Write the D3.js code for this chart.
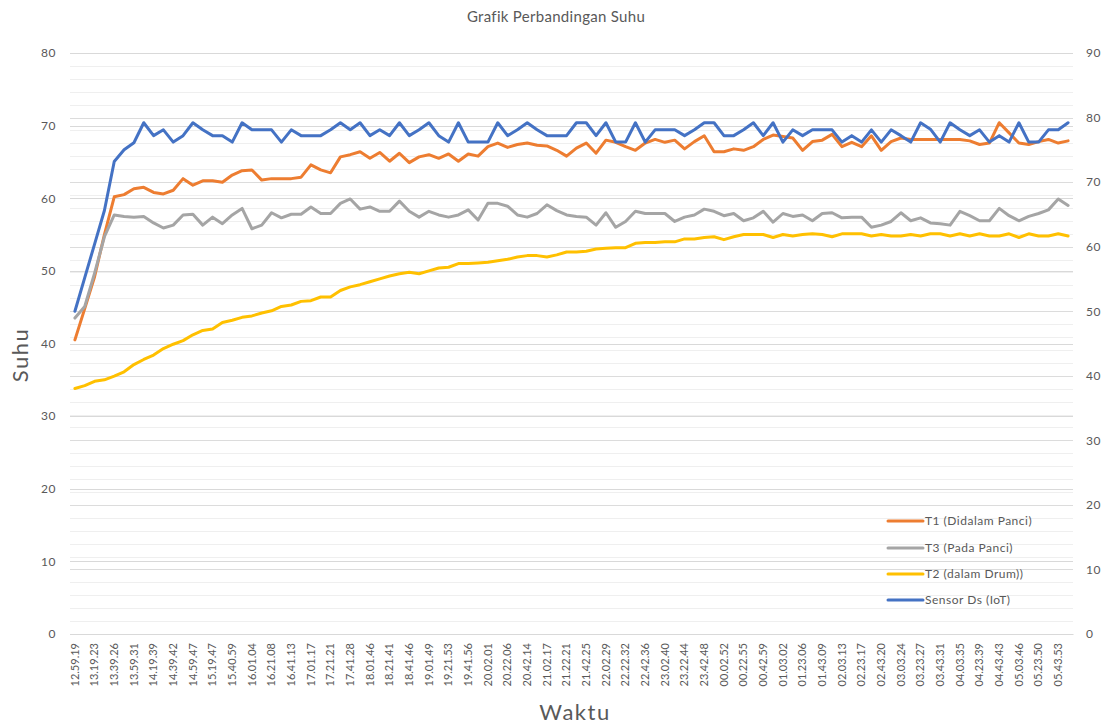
<!DOCTYPE html>
<html>
<head>
<meta charset="utf-8">
<script src="https://cdn.jsdelivr.net/npm/d3@7"></script>
<style>
  html, body { margin: 0; padding: 0; background: #fff; }
  svg { display: block; font-family: Lato, "Open Sans", "Noto Sans", sans-serif; }
</style>
</head>
<body>
<svg id="chart" width="1109" height="726"></svg>
<script>
// ---- Data ----
const tickLabels = ["12.59.19","13.19.23","13.39.26","13.59.31","14.19.39","14.39.42","14.59.47","15.19.47","15.40.59","16.01.04","16.21.08","16.41.13","17.01.17","17.21.21","17.41.28","18.01.46","18.21.41","18.41.46","19.01.49","19.21.53","19.41.56","20.02.01","20.22.06","20.42.14","21.02.17","21.22.21","21.42.25","22.02.29","22.22.32","22.42.36","23.02.40","23.22.44","23.42.48","00.02.52","00.22.55","00.42.59","01.03.02","01.23.06","01.43.09","02.03.13","02.23.17","02.43.20","03.03.24","03.23.27","03.43.31","04.03.35","04.23.39","04.43.43","05.03.46","05.23.50","05.43.53"];

// T1 (Didalam Panci) - left axis
const t1 = [40.5,44.8,49.2,55.0,60.2,60.5,61.3,61.5,60.8,60.6,61.1,62.7,61.8,62.4,62.4,62.2,63.2,63.8,63.9,62.5,62.7,62.7,62.7,62.9,64.6,63.9,63.5,65.7,66.0,66.4,65.5,66.3,65.1,66.2,64.9,65.7,66.0,65.5,66.1,65.1,66.1,65.8,67.1,67.6,67.0,67.4,67.6,67.3,67.2,66.6,65.8,66.9,67.6,66.2,68.0,67.7,67.1,66.6,67.6,68.1,67.7,68.0,66.8,67.8,68.6,66.4,66.4,66.8,66.6,67.1,68.1,68.7,68.5,68.3,66.6,67.8,68.0,68.8,67.1,67.7,67.1,68.6,66.6,67.8,68.3,68.1,68.1,68.1,68.1,68.1,68.1,67.9,67.4,67.6,70.4,69.0,67.6,67.4,67.8,68.1,67.6,67.9];

// T3 (Pada Panci) - left axis
const t3 = [43.5,45.1,49.7,54.7,57.7,57.5,57.4,57.5,56.6,55.9,56.3,57.7,57.8,56.3,57.4,56.5,57.7,58.6,55.8,56.3,58.0,57.3,57.8,57.8,58.8,57.9,57.9,59.3,59.9,58.5,58.8,58.2,58.2,59.6,58.2,57.4,58.2,57.7,57.4,57.7,58.4,57.0,59.3,59.3,58.9,57.7,57.4,57.9,59.1,58.3,57.7,57.5,57.4,56.3,58.0,56.0,56.8,58.2,57.9,57.9,57.9,56.8,57.4,57.7,58.5,58.2,57.6,57.9,56.9,57.3,58.2,56.7,57.9,57.5,57.7,56.9,57.9,58.0,57.3,57.4,57.4,56.0,56.3,56.8,58.0,56.9,57.3,56.6,56.5,56.3,58.2,57.6,56.9,56.9,58.6,57.6,56.9,57.5,57.9,58.4,59.9,59.0];

// T2 (dalam Drum)) - left axis
const t2 = [33.8,34.2,34.8,35.0,35.5,36.1,37.1,37.8,38.4,39.3,39.9,40.4,41.2,41.8,42.0,42.9,43.2,43.6,43.8,44.2,44.5,45.1,45.3,45.8,45.9,46.4,46.4,47.3,47.8,48.1,48.5,48.9,49.3,49.6,49.8,49.6,50.0,50.4,50.5,51.0,51.0,51.1,51.2,51.4,51.6,51.9,52.1,52.1,51.9,52.2,52.6,52.6,52.7,53.0,53.1,53.2,53.2,53.8,53.9,53.9,54.0,54.0,54.4,54.4,54.6,54.7,54.3,54.7,55.0,55.0,55.0,54.6,55.0,54.8,55.0,55.1,55.0,54.7,55.1,55.1,55.1,54.8,55.0,54.8,54.8,55.0,54.8,55.1,55.1,54.8,55.1,54.8,55.1,54.8,54.8,55.1,54.6,55.1,54.8,54.8,55.1,54.8];

// Sensor Ds (IoT) - right axis
const sensor = [50.0,55.2,60.4,65.6,73.2,75.0,76.1,79.2,77.2,78.1,76.2,77.2,79.2,78.1,77.2,77.2,76.2,79.2,78.1,78.1,78.1,76.2,78.1,77.2,77.2,77.2,78.1,79.2,78.1,79.2,77.2,78.1,77.2,79.2,77.2,78.1,79.2,77.2,76.2,79.2,76.2,76.2,76.2,79.2,77.2,78.1,79.2,78.1,77.2,77.2,77.2,79.2,79.2,77.2,79.2,76.2,76.2,79.2,76.2,78.1,78.1,78.1,77.2,78.1,79.2,79.2,77.2,77.2,78.1,79.2,77.2,79.2,76.2,78.1,77.2,78.1,78.1,78.1,76.2,77.2,76.2,78.1,76.2,78.1,77.2,76.2,79.2,78.2,76.2,79.2,78.1,77.2,78.1,76.2,77.2,76.2,79.2,76.2,76.2,78.1,78.1,79.2];

const leftTicks = [0,10,20,30,40,50,60,70,80];
const rightTicks = [0,10,20,30,40,50,60,70,80,90];
const rightMinor = d3.range(0, 91, 2);

const seriesNames = ["T1 (Didalam Panci)","T3 (Pada Panci)","T2 (dalam Drum))","Sensor Ds (IoT)"];
const seriesColors = ["#ED7D31","#A5A5A5","#FFC000","#4472C4"];

// ---- Layout ----
const svg = d3.select("#chart");
const pLeft = 70, pRight = 1073, pTop = 53, pBottom = 634;
const idx = d3.range(t1.length);

const x = d3.scaleBand().domain(idx).range([pLeft, pRight]).padding(0);
const cx = i => x(i) + x.bandwidth() / 2;
const yL = d3.scaleLinear().domain([0, 80]).range([pBottom, pTop]);
const yR = d3.scaleLinear().domain([0, 90]).range([pBottom, pTop]);

const textColor = "#595959";

// Gridlines
const grid = svg.append("g");
grid.selectAll("line.minor").data(rightMinor).join("line")
  .attr("x1", pLeft).attr("x2", pRight)
  .attr("y1", d => Math.round(yR(d)) + 0.5).attr("y2", d => Math.round(yR(d)) + 0.5)
  .attr("stroke", "#efefef").attr("stroke-width", 1);
grid.selectAll("line.rmaj").data(rightTicks).join("line")
  .attr("x1", pLeft).attr("x2", pRight)
  .attr("y1", d => Math.round(yR(d)) + 0.5).attr("y2", d => Math.round(yR(d)) + 0.5)
  .attr("stroke", "#dcdcdc").attr("stroke-width", 1);
grid.selectAll("line.lmaj").data(leftTicks).join("line")
  .attr("x1", pLeft).attr("x2", pRight)
  .attr("y1", d => Math.round(yL(d)) + 0.5).attr("y2", d => Math.round(yL(d)) + 0.5)
  .attr("stroke", "#d9d9d9").attr("stroke-width", 1);

// Axes
const axL = svg.append("g").attr("transform", `translate(${pLeft - 14},0)`)
  .call(d3.axisLeft(yL).tickValues(leftTicks).tickSize(0).tickPadding(0));
const axR = svg.append("g").attr("transform", `translate(${pRight + 13},0)`)
  .call(d3.axisRight(yR).tickValues(rightTicks).tickSize(0).tickPadding(0));
[axL, axR].forEach(a => {
  a.select(".domain").remove();
  a.selectAll("text").attr("fill", textColor).style("font-size", "12px")
    .style("letter-spacing", "0.5px")
    .style("font-family", "Lato, 'Open Sans', sans-serif");
});

const axB = svg.append("g").attr("transform", `translate(0,${pBottom})`)
  .call(d3.axisBottom(x)
    .tickValues(idx.filter(i => i % 2 === 0 && i / 2 < tickLabels.length))
    .tickFormat(i => tickLabels[i / 2])
    .tickSize(0));
axB.select(".domain").attr("stroke", "#d9d9d9");
axB.selectAll("text")
  .attr("fill", textColor)
  .style("font-size", "11px")
  .style("font-family", "Lato, 'Open Sans', sans-serif")
  .attr("transform", "rotate(-90)")
  .attr("text-anchor", "end")
  .attr("dy", "0.35em")
  .attr("x", -9)
  .attr("y", 0);

// Lines
const series = [
  { data: t1, y: yL },
  { data: t3, y: yL },
  { data: t2, y: yL },
  { data: sensor, y: yR }
];
series.forEach((s, k) => {
  const line = d3.line().x((d, i) => cx(i)).y(d => s.y(d));
  svg.append("path").datum(s.data)
    .attr("d", line)
    .attr("fill", "none")
    .attr("stroke", seriesColors[k])
    .attr("stroke-width", 3)
    .attr("stroke-linejoin", "round")
    .attr("stroke-linecap", "round");
});

// Title and axis titles
svg.append("text").attr("x", 556).attr("y", 22).attr("text-anchor", "middle")
  .attr("fill", textColor).style("font-size", "15px").style("letter-spacing", "0.3px")
  .text("Grafik Perbandingan Suhu");
svg.append("text").attr("transform", "translate(28,355) rotate(-90)").attr("text-anchor", "middle")
  .attr("fill", textColor).style("font-size", "22px").style("letter-spacing", "1.5px").text("Suhu");
svg.append("text").attr("x", 575).attr("y", 720).attr("text-anchor", "middle")
  .attr("fill", textColor).style("font-size", "22px").style("letter-spacing", "1.5px").text("Waktu");

// Legend
const lg = svg.append("g");
const legY = [521, 548, 574, 600];
seriesNames.forEach((n, k) => {
  lg.append("line").attr("x1", 888).attr("x2", 923)
    .attr("y1", legY[k]).attr("y2", legY[k])
    .attr("stroke", seriesColors[k]).attr("stroke-width", 3).attr("stroke-linecap", "round");
  lg.append("text").attr("x", 925).attr("y", legY[k]).attr("dy", "0.35em")
    .attr("fill", textColor).style("font-size", "12px").style("letter-spacing", "0.5px").text(n);
});
</script>
</body>
</html>
